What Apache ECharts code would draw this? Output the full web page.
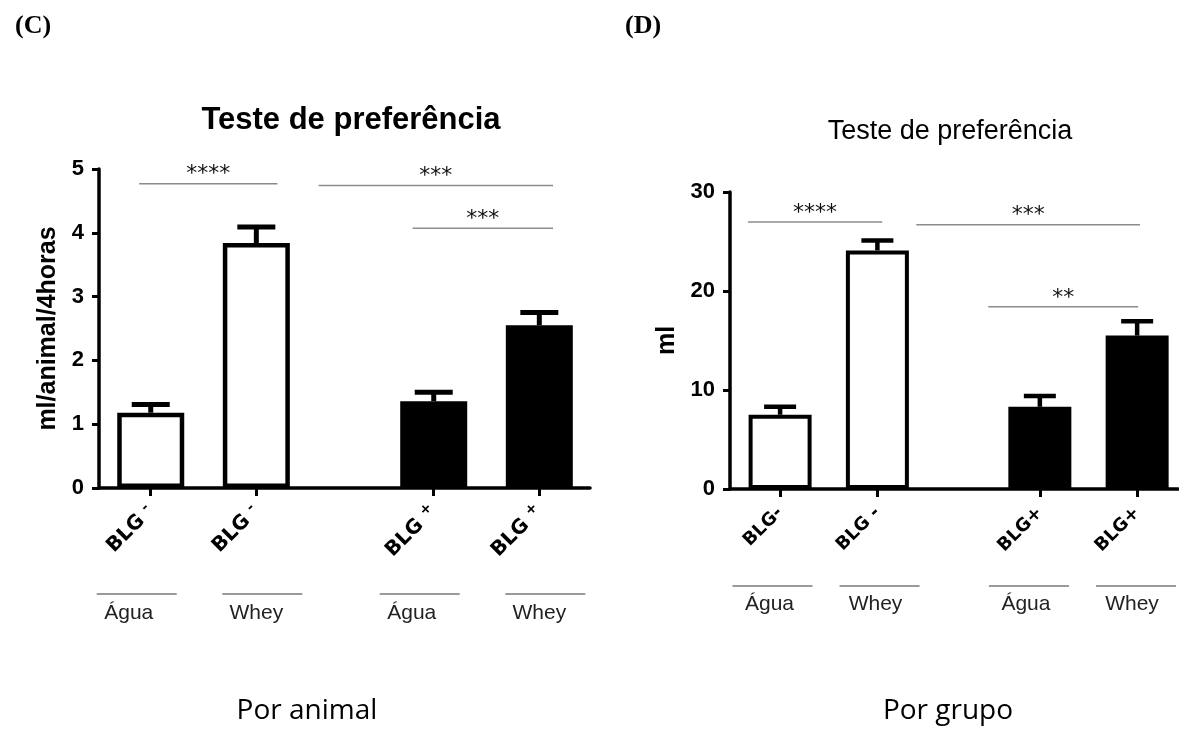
<!DOCTYPE html>
<html><head><meta charset="utf-8">
<script src="https://cdn.jsdelivr.net/npm/echarts@6/dist/echarts.min.js"></script>
<style>html,body{margin:0;padding:0;background:#fff}#chart{width:1179px;height:731px}</style>
</head><body><div id="chart"></div>
<script>
// ---------- data ----------
const labelsC = ['BLG -', 'BLG -', 'BLG +', 'BLG +'];
const labelsD = ['BLG-', 'BLG -', 'BLG+', 'BLG+'];
const groups = ['Água', 'Whey', 'Água', 'Whey'];
const meanC = [1.18, 3.84, 1.36, 2.55];
const semC = [0.13, 0.25, 0.14, 0.20];
const meanD = [7.5, 24.1, 8.3, 15.5];
const semD = [0.8, 1.0, 1.1, 1.45];
const fills = ['#ffffff', '#ffffff', '#000000', '#000000'];
const yTicksC = [0, 1, 2, 3, 4, 5];
const yTicksD = [0, 10, 20, 30];
// significance brackets: [x from, x to, y, stars] in axis units
const sigC = [[-0.11, 1.2, 4.77, '****'], [1.59, 3.81, 4.74, '***'], [2.48, 3.81, 4.07, '***']];
const sigD = [[-0.33, 1.05, 26.96, '****'], [1.4, 3.7, 26.7, '***'], [2.14, 3.68, 18.4, '**']];

// ---------- layout helpers ----------
const posOf = (n, gap) => Array.from({length: n}, (_, i) => i + (i >= 2 ? gap : 0));
const posC = posOf(labelsC.length, 0.68);
const posD = posOf(labelsD.length, 0.67);
const idxOf = (pos, v) => pos.findIndex(p => Math.abs(p - v) < 1e-6);

function errRender(capW, lw) {
  return function (params, api) {
    const x = api.value(0), m = api.value(1), e = api.value(2);
    const p0 = api.coord([x, m]), p1 = api.coord([x, m + e]);
    return {type: 'group', children: [
      {type: 'line', shape: {x1: p0[0], y1: p0[1], x2: p1[0], y2: p1[1]}, style: {stroke: '#000', lineWidth: lw}},
      {type: 'line', shape: {x1: p1[0] - capW / 2, y1: p1[1], x2: p1[0] + capW / 2, y2: p1[1]}, style: {stroke: '#000', lineWidth: lw}}
    ]};
  };
}
function sigRender(list) {
  return function (params, api) {
    const it = list[params.dataIndex];
    const a = api.coord([it[0], it[2]]), b = api.coord([it[1], it[2]]);
    return {type: 'group', children: [
      {type: 'line', shape: {x1: a[0], y1: a[1], x2: b[0], y2: b[1]}, style: {stroke: '#8c8c8c', lineWidth: 1.5}},
      {type: 'text', x: (a[0] + b[0]) / 2, y: a[1] + 2, style: {text: it[3], fill: '#111', fontSize: 22, fontFamily: 'DejaVu Sans', align: 'center', verticalAlign: 'bottom'}}
    ]};
  };
}

const axisCol = '#000';
function mainX(grid, pos, min, max, fmt, rich, fs) {
  return {
    type: 'value', gridIndex: grid, min: min, max: max, splitLine: {show: false},
    axisLine: {show: true, onZero: false, lineStyle: {color: axisCol, width: 3.5}},
    axisTick: {show: true, customValues: pos, length: 8, lineStyle: {color: axisCol, width: 3}},
    axisLabel: {show: true, customValues: pos, rotate: 45, margin: 21, formatter: fmt, rich: rich,
      hideOverlap: false, showMinLabel: true, showMaxLabel: true,
      color: '#000', fontSize: fs, fontWeight: 'bold', fontFamily: 'DejaVu Sans'}
  };
}
function groupX(grid, pos, min, max, ln, sh) {
  return {
    type: 'value', gridIndex: grid, min: min, max: max, splitLine: {show: false},
    axisLine: {show: false}, axisTick: {show: false},
    axisLabel: {show: true, customValues: pos, margin: 2, hideOverlap: false, showMinLabel: true, showMaxLabel: true,
      formatter: v => {
        const g = groups[idxOf(pos, v)];
        return g === 'Água' ? '{ln|}{spA|}\n{t|Água}{spT|}' : '{spW|}{ln|}\n{t|Whey}';
      },
      rich: {
        ln: {width: ln, height: 2, lineHeight: 2, backgroundColor: '#9a9a9a'},
        spA: {width: sh[0], height: 2, lineHeight: 2},
        spW: {width: sh[2], height: 2, lineHeight: 2},
        spT: {width: sh[1], lineHeight: sh[3]},
        t: {fontSize: 21, fontFamily: 'Liberation Sans', color: '#222', lineHeight: sh[3]}
      }
    }
  };
}
function mainY(grid, max, interval, name, gap) {
  return {
    type: 'value', gridIndex: grid, min: 0, max: max, interval: interval,
    splitLine: {show: false},
    axisLine: {show: true, onZero: false, lineStyle: {color: axisCol, width: 3.5}},
    axisTick: {show: true, length: 7, lineStyle: {color: axisCol, width: 3}},
    axisLabel: {color: '#000', fontSize: 22, fontWeight: 'bold', fontFamily: 'Liberation Sans', margin: 15},
    name: name, nameLocation: 'middle', nameGap: gap,
    nameTextStyle: {color: '#000', fontSize: 25, fontWeight: 'bold', fontFamily: 'Liberation Sans'}
  };
}

const richC = {
  b: {fontSize: 20, fontWeight: 'bold', fontFamily: 'DejaVu Sans', color: '#000', lineHeight: 24},
  s: {fontSize: 14, fontWeight: 'bold', fontFamily: 'DejaVu Sans', color: '#000', verticalAlign: 'top', lineHeight: 24}
};
const fmtC = v => {
  const l = labelsC[idxOf(posC, v)] || '';
  const parts = l.split(' ');
  return '{b|' + parts[0] + ' }{s|' + (parts[1] || '') + '}';
};
const fmtD = v => labelsD[idxOf(posD, v)] || '';

const option = {
  backgroundColor: '#fff',
  animation: false,
  title: [
    {text: '(C)', left: 10, top: 8, textStyle: {fontFamily: 'Liberation Serif', fontWeight: 'bold', fontSize: 26, color: '#000'}},
    {text: '(D)', left: 620, top: 8, textStyle: {fontFamily: 'Liberation Serif', fontWeight: 'bold', fontSize: 26, color: '#000'}},
    {text: 'Teste de preferência', left: 346, textAlign: 'center', top: 100, textStyle: {fontFamily: 'Liberation Sans', fontWeight: 'bold', fontSize: 31, color: '#000'}},
    {text: 'Teste de preferência', left: 945, textAlign: 'center', top: 113, textStyle: {fontFamily: 'Liberation Sans', fontWeight: 'normal', fontSize: 27, color: '#000'}},
    {text: 'Por animal', left: 302, textAlign: 'center', top: 692, textStyle: {fontFamily: 'Open Sans', fontWeight: 'normal', fontSize: 28, color: '#000'}},
    {text: 'Por grupo', left: 943, textAlign: 'center', top: 692, textStyle: {fontFamily: 'Open Sans', fontWeight: 'normal', fontSize: 28, color: '#000'}}
  ],
  grid: [
    {left: 99, top: 169, width: 491, height: 319},
    {left: 99, top: 540, width: 491, height: 51},
    {left: 730, top: 192, width: 448, height: 297},
    {left: 730, top: 530, width: 448, height: 53}
  ],
  xAxis: [
    mainX(0, posC, -0.49, 4.16, fmtC, richC, 20),
    groupX(1, posC, -0.49, 4.16, 80, [28, 44, 12, 36]),
    mainX(2, posD, -0.515, 4.09, fmtD, undefined, 18),
    groupX(3, posD, -0.515, 4.09, 80, [14, 20, 8, 34])
  ],
  yAxis: [
    mainY(0, 5, 1, 'ml/animal/4horas', 38),
    {type: 'value', gridIndex: 1, show: false, min: 0, max: 1},
    mainY(2, 30, 10, 'ml', 50),
    {type: 'value', gridIndex: 3, show: false, min: 0, max: 1}
  ],
  series: [
    {type: 'bar', xAxisIndex: 0, yAxisIndex: 0, barWidth: 67, z: 2,
      itemStyle: {borderColor: '#000', borderWidth: 4.5},
      data: posC.map((p, i) => ({value: [p, meanC[i]], itemStyle: {color: fills[i]}}))},
    {type: 'custom', xAxisIndex: 0, yAxisIndex: 0, z: 3, encode: {x: 0, y: 1},
      renderItem: errRender(38, 5), data: posC.map((p, i) => [p, meanC[i], semC[i]])},
    {type: 'custom', xAxisIndex: 0, yAxisIndex: 0, z: 3, encode: {x: [0, 1], y: 2}, clip: false,
      renderItem: sigRender(sigC), data: sigC.map(s => [s[0], s[1], s[2]])},
    {type: 'bar', xAxisIndex: 2, yAxisIndex: 2, barWidth: 63, z: 2,
      itemStyle: {borderColor: '#000', borderWidth: 4},
      data: posD.map((p, i) => ({value: [p, meanD[i]], itemStyle: {color: fills[i]}}))},
    {type: 'custom', xAxisIndex: 2, yAxisIndex: 2, z: 3, encode: {x: 0, y: 1},
      renderItem: errRender(32, 4.5), data: posD.map((p, i) => [p, meanD[i], semD[i]])},
    {type: 'custom', xAxisIndex: 2, yAxisIndex: 2, z: 3, encode: {x: [0, 1], y: 2}, clip: false,
      renderItem: sigRender(sigD), data: sigD.map(s => [s[0], s[1], s[2]])}
  ]
};
const chart = echarts.init(document.getElementById('chart'), null, {renderer: 'canvas'});
chart.setOption(option);
</script></body></html>
